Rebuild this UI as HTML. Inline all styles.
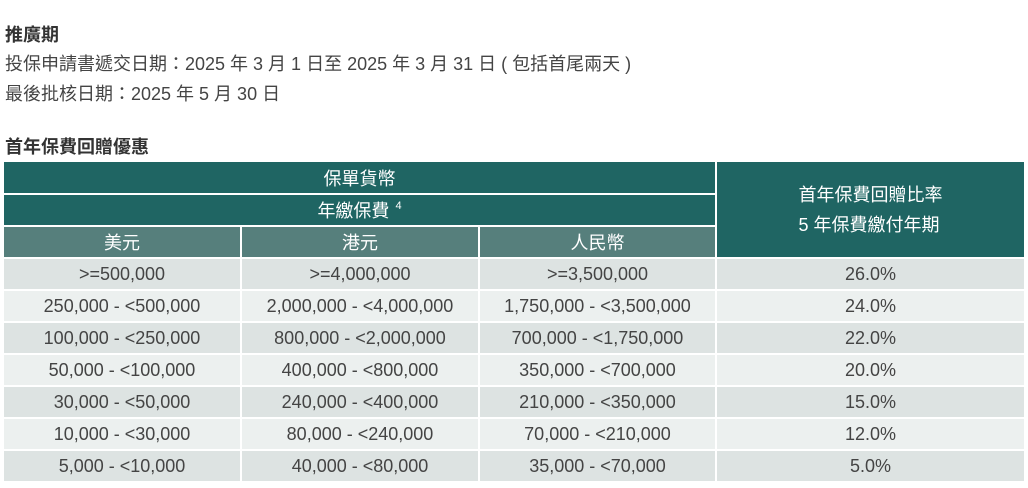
<!DOCTYPE html>
<html><head><meta charset="utf-8">
<style>
body{margin:0;width:1028px;height:488px;background:#fff;font-family:"Liberation Sans","Noto Sans CJK TC",sans-serif;color:#444;position:relative;overflow:hidden}
.t{position:absolute;left:5px;font-size:18px;white-space:nowrap}
.b{font-weight:bold;color:#333}
.c{position:absolute;display:flex;align-items:center;justify-content:center;font-size:18px;box-sizing:border-box}
.h{background:#1f6563;color:#fff}
.s{background:#567f7c;color:#fff}
.o{background:#dde3e2}
.e{background:#ecf0ef}
</style></head><body>
<div class="t b" style="top:21px">推廣期</div>
<div class="t" style="top:50px">投保申請書遞交日期：2025 年 3 月 1 日至 2025 年 3 月 31 日 ( 包括首尾兩天 )</div>
<div class="t" style="top:80px">最後批核日期：2025 年 5 月 30 日</div>
<div class="t b" style="top:133px">首年保費回贈優惠</div>

<div class="c h" style="left:4px;top:162px;width:711px;height:31px">保單貨幣</div>
<div class="c h" style="left:4px;top:195px;width:711px;height:30px">年繳保費<sup style="font-size:11px;margin-left:6px;position:relative;top:-4px">4</sup></div>
<div class="c h" style="left:717px;top:162px;width:307px;height:95px;flex-direction:column;line-height:30px">首年保費回贈比率<br>5 年保費繳付年期</div>
<div class="c s" style="left:4px;top:227px;width:236px;height:30px">美元</div>
<div class="c s" style="left:242px;top:227px;width:236px;height:30px">港元</div>
<div class="c s" style="left:480px;top:227px;width:235px;height:30px">人民幣</div>
<div id="rows"></div>
<script>
const usd=[">=500,000","250,000 - <500,000","100,000 - <250,000","50,000 - <100,000","30,000 - <50,000","10,000 - <30,000","5,000 - <10,000"];
const hkd=[">=4,000,000","2,000,000 - <4,000,000","800,000 - <2,000,000","400,000 - <800,000","240,000 - <400,000","80,000 - <240,000","40,000 - <80,000"];
const rmb=[">=3,500,000","1,750,000 - <3,500,000","700,000 - <1,750,000","350,000 - <700,000","210,000 - <350,000","70,000 - <210,000","35,000 - <70,000"];
const rate=["26.0%","24.0%","22.0%","20.0%","15.0%","12.0%","5.0%"];
const cols=[[4,236],[242,236],[480,235],[717,307]];
const root=document.getElementById('rows');
usd.forEach((u,i)=>{
  const vals=[u,hkd[i],rmb[i],rate[i]];
  const names=['usd','hkd','rmb','rate'];
  vals.forEach((v,j)=>{
    const d=document.createElement('div');
    d.className='c '+(i%2?'e':'o');
    d.style.left=cols[j][0]+'px';d.style.width=cols[j][1]+'px';
    d.style.top=(259+i*32)+'px';d.style.height='30px';
    d.textContent=v;
    
    
    root.appendChild(d);
  });
});
</script>
</body></html>
